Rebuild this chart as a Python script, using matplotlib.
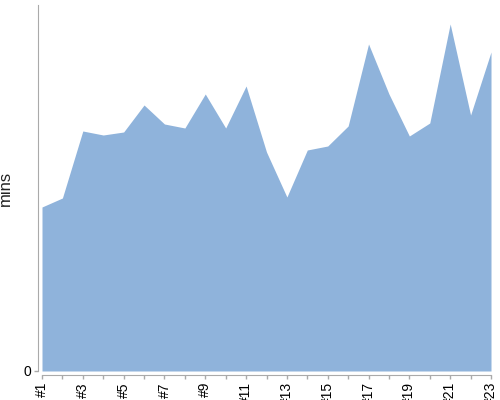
import matplotlib
matplotlib.use('Agg')
import matplotlib.pyplot as plt

plt.rcParams['font.family'] = ['Liberation Sans', 'DejaVu Sans']

# session numbers and minutes (y axis only shows 0)
sessions = list(range(1, 24))
labels = ['#%d' % s for s in sessions]
mins = [164, 173, 240, 236, 239, 266, 247, 243, 277, 243, 285, 219,
        174, 221, 225, 245, 327, 277, 235, 248, 347, 256, 319]

fig = plt.figure(figsize=(5, 4), dpi=100)
ax = fig.add_axes([0.084, 0.0725, 0.898, 0.915])

ax.fill_between(sessions, mins, 0, color='#8fb3db', linewidth=0)

ax.set_xlim(1, 23)
ax.set_ylim(0, 366)

ax.set_xticks(sessions[::2])
ax.set_xticklabels(labels[::2], fontsize=6, color='#222222')
ax.set_xticks(sessions, minor=True)
ax.set_yticks([0])
ax.set_yticklabels(['0'], fontsize=10, color='#666666')

for side in ['top', 'right']:
    ax.spines[side].set_visible(False)
for side in ['left', 'bottom']:
    ax.spines[side].set_color('#aaaaaa')
    ax.spines[side].set_position(('outward', 3))

ax.tick_params(axis='both', which='both', color='#aaaaaa', length=3, width=1, pad=2)
ax.tick_params(axis='x', labelrotation=90)

ax.set_ylabel('mins', fontsize=12, color='#222222')
ax.yaxis.set_label_coords(-0.065, 0.5)

fig.savefig('out.png', dpi=100)
